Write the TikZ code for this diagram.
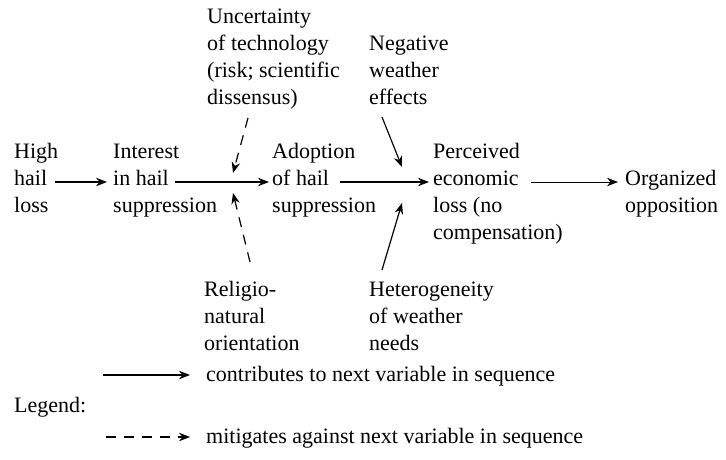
\documentclass[tikz,border=0pt]{standalone}
\usepackage{fontspec}
\setmainfont{Liberation Serif}
\usetikzlibrary{arrows.meta}
\begin{document}
\begin{tikzpicture}[x=1pt,y=-1pt,
  lbl/.style={anchor=base west,align=left,inner sep=0pt,font=\fontsize{22}{27}\selectfont},
  conn/.style={-{Stealth[length=11pt,width=8.5pt]},line width=1.2pt},
  mitig/.style={conn,dash pattern=on 10pt off 8pt},
  weak/.style={conn,line width=0.8pt}]
\useasboundingbox (0,0) rectangle (726,460);
% main chain (anchored at baseline of last line)
\node[lbl] (high) at (14,212) {High\\hail\\loss};
\node[lbl] (interest) at (113,212) {Interest\\in hail\\suppression};
\node[lbl] (adoption) at (272,212) {Adoption\\of hail\\suppression};
\node[lbl] (perceived) at (433,239) {Perceived\\economic\\loss (no\\compensation)};
\node[lbl] (organized) at (625,212) {Organized\\opposition};
% side factors
\node[lbl] (uncert) at (207,104) {Uncertainty\\of technology\\(risk; scientific\\dissensus)};
\node[lbl] (negative) at (369,104) {Negative\\weather\\effects};
\node[lbl] (religio) at (204,350) {Religio-\\natural\\orientation};
\node[lbl] (hetero) at (369,350) {Heterogeneity\\of weather\\needs};
% connector ends
\coordinate (a1) at (55,182); \coordinate (a2) at (107,182);
\coordinate (b1) at (175,182); \coordinate (b2) at (269,182);
\coordinate (c1) at (340,182); \coordinate (c2) at (429,182);
\coordinate (d1) at (531,182); \coordinate (d2) at (618,182);
\coordinate (u1) at (248,118); \coordinate (u2) at (233,173);
\coordinate (r1) at (250,262); \coordinate (r2) at (233,193);
\coordinate (n1) at (382,117); \coordinate (n2) at (402,167);
\coordinate (h1) at (382,270); \coordinate (h2) at (402,203);
\draw[conn] (a1) -- (a2);
\draw[conn] (b1) -- (b2);
\draw[conn] (c1) -- (c2);
\draw[weak] (d1) -- (d2);
\draw[mitig] (u1) -- (u2);
\draw[mitig] (r1) -- (r2);
\draw[conn] (n1) -- (n2);
\draw[conn] (h1) -- (h2);
% legend
\node[lbl] (legend) at (14,412) {Legend:};
\node[lbl] (contrib) at (206,381) {contributes to next variable in sequence};
\node[lbl] (mitigtxt) at (206,443) {mitigates against next variable in sequence};
\coordinate (l1) at (103,375); \coordinate (l2) at (190,375);
\coordinate (m1) at (106,437); \coordinate (m2) at (190,437);
\draw[conn] (l1) -- (l2);
\draw[mitig] (m1) -- (m2);
\end{tikzpicture}
\end{document}
